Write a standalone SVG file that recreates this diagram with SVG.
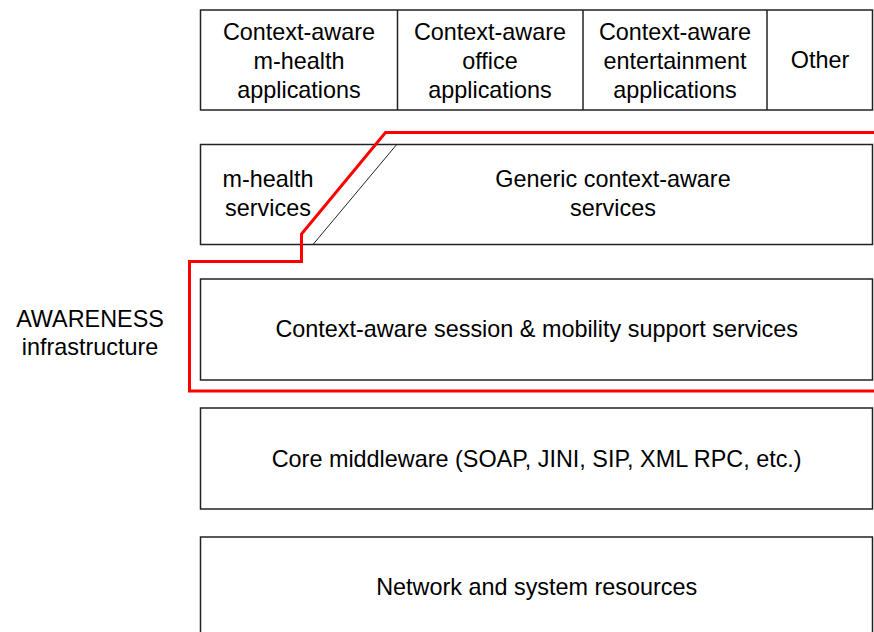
<svg xmlns="http://www.w3.org/2000/svg" width="874" height="632" viewBox="0 0 874 632">
<style>
.box{fill:#fff;stroke:#222;stroke-width:1.5}
.t{font-family:"Liberation Sans",Arial,sans-serif;font-size:23.4px;fill:#000;text-anchor:middle}
.div{stroke:#222;stroke-width:1.5}
.red{fill:none;stroke:#f00;stroke-width:3}
</style>
<rect width="874" height="632" fill="#fff"/>
<g id="applications">
<rect class="box" x="200.5" y="10" width="672" height="100"/>
<line class="div" x1="397.5" y1="10" x2="397.5" y2="110"/>
<line class="div" x1="583" y1="10" x2="583" y2="110"/>
<line class="div" x1="767" y1="10" x2="767" y2="110"/>
<g id="mhealth-app"><text class="t" x="299" y="39.5">Context-aware</text><text class="t" x="299" y="68.5">m-health</text><text class="t" x="299" y="97.5">applications</text></g>
<g id="office-app"><text class="t" x="490" y="39.5">Context-aware</text><text class="t" x="490" y="68.5">office</text><text class="t" x="490" y="97.5">applications</text></g>
<g id="entertainment-app"><text class="t" x="675" y="39.5">Context-aware</text><text class="t" x="675" y="68.5">entertainment</text><text class="t" x="675" y="97.5">applications</text></g>
<g id="other-app"><text class="t" x="820" y="68">Other</text></g>
</g>
<g id="services">
<rect class="box" x="200.5" y="144.5" width="672" height="100"/>
<line x1="396.7" y1="144.5" x2="313" y2="244.5" stroke="#222" stroke-width="1"/>
<g id="mhealth-services"><text class="t" x="268" y="187">m-health</text><text class="t" x="268" y="215.5">services</text></g>
<g id="generic-services"><text class="t" x="613" y="187">Generic context-aware</text><text class="t" x="613" y="215.5">services</text></g>
</g>
<g id="session-mobility">
<rect class="box" x="200.5" y="279" width="672" height="101"/>
<text class="t" x="536.7" y="337">Context-aware session &amp; mobility support services</text>
</g>
<g id="core-middleware">
<rect class="box" x="200.5" y="408" width="672" height="101"/>
<text class="t" x="536.7" y="467">Core middleware (SOAP, JINI, SIP, XML RPC, etc.)</text>
</g>
<g id="network-resources">
<rect class="box" x="200.5" y="537" width="672" height="110"/>
<text class="t" x="536.7" y="595">Network and system resources</text>
</g>
<g id="awareness-label">
<text class="t" x="90" y="326.5">AWARENESS</text>
<text class="t" x="90" y="355">infrastructure</text>
</g>
<g id="connectors">
<path class="red" d="M876,132.5 H385.5 L301.5,234 V261.5 H189.5 V391 H876"/>
</g>
</svg>
